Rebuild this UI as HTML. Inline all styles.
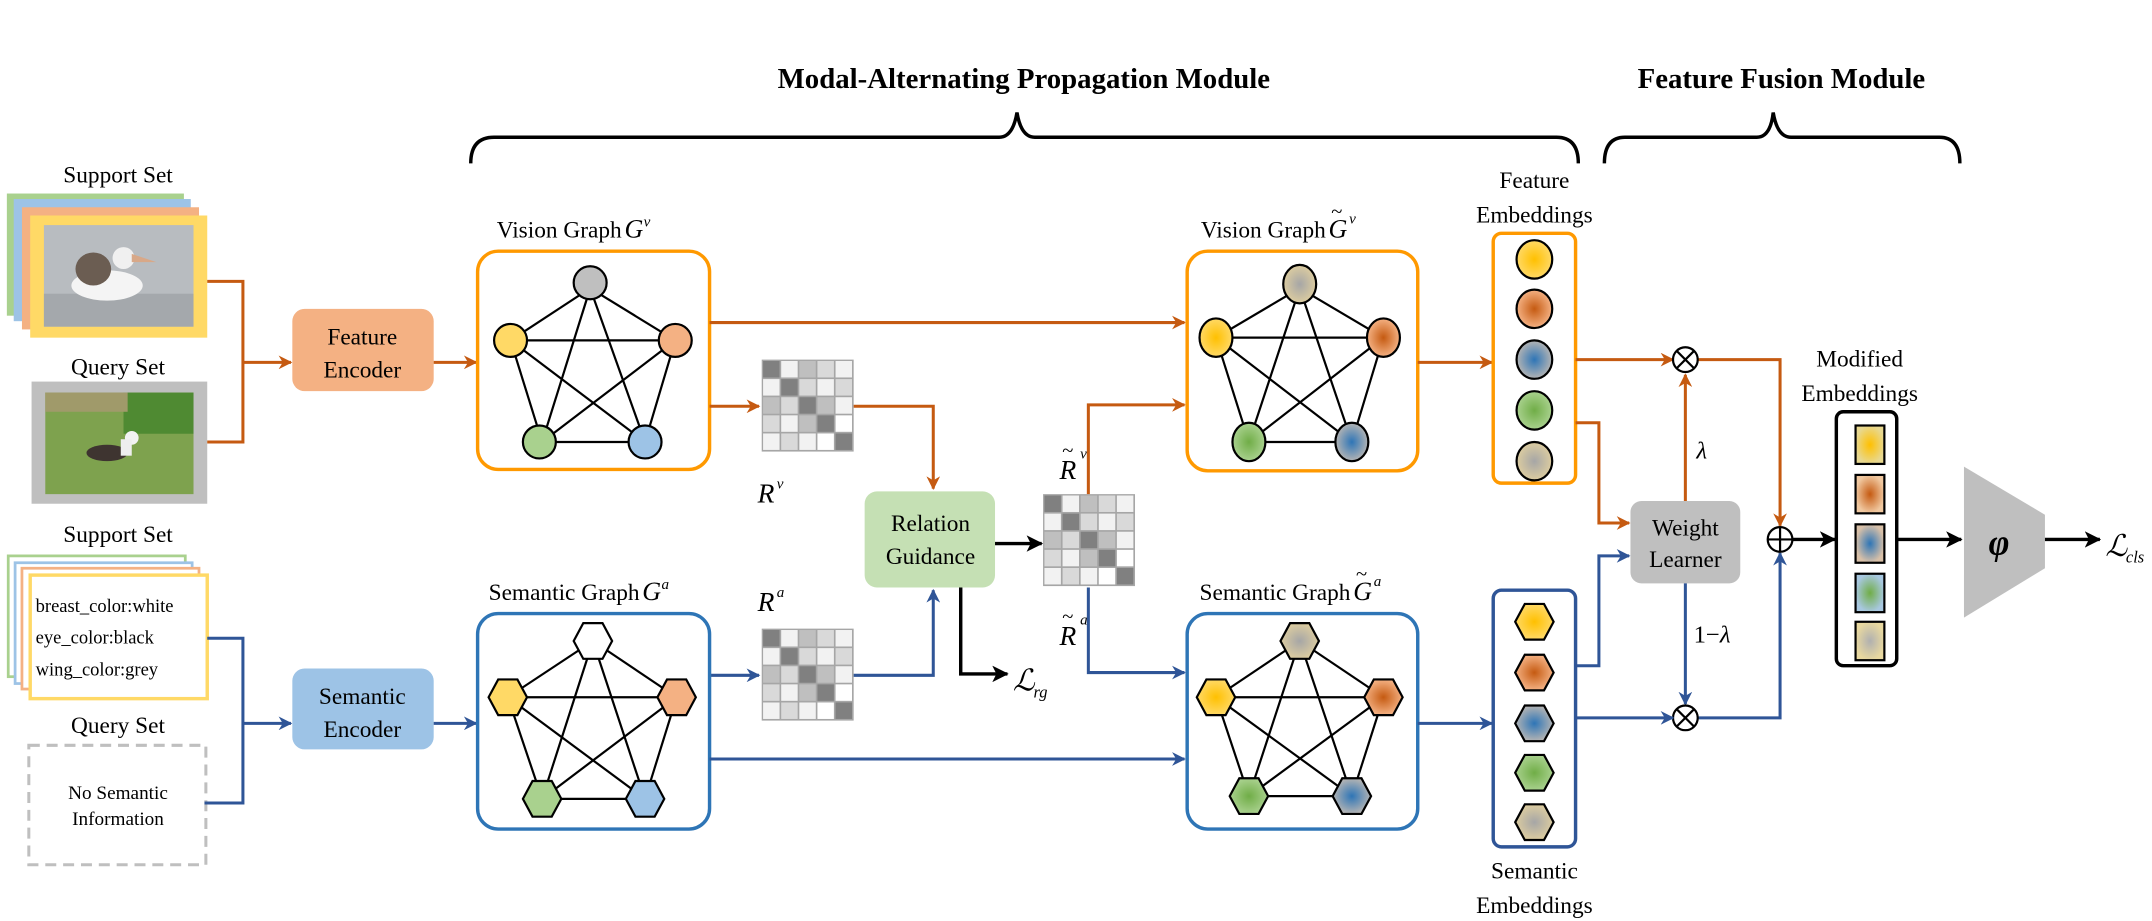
<!DOCTYPE html>
<html><head><meta charset="utf-8"><style>
html,body{margin:0;padding:0;background:#fff;}
svg{display:block;font-family:"Liberation Serif","Times New Roman",serif;}
svg text{font-family:"Liberation Serif","Times New Roman",serif;fill:#000;}
.t{font-size:17px;text-anchor:middle;}
.it{font-style:italic;}
</style></head><body>
<svg width="2152" height="921" viewBox="0 0 1568 671" preserveAspectRatio="none" xmlns="http://www.w3.org/2000/svg" font-family="Liberation Serif, serif">
<defs>
<marker id="ao" markerWidth="10" markerHeight="10" refX="9" refY="5" orient="auto" markerUnits="userSpaceOnUse"><path d="M0,0 L10,5 L0,10 L3,5 z" fill="#c55a11"/></marker>
<marker id="ab" markerWidth="10" markerHeight="10" refX="9" refY="5" orient="auto" markerUnits="userSpaceOnUse"><path d="M0,0 L10,5 L0,10 L3,5 z" fill="#2f5597"/></marker>
<marker id="ak" markerWidth="12" markerHeight="12" refX="11" refY="6" orient="auto" markerUnits="userSpaceOnUse"><path d="M0,0 L12,6 L0,12 L3,6 z" fill="#000"/></marker>
<radialGradient id="gy"><stop offset="0" stop-color="#ffc000"/><stop offset="1" stop-color="#ffd966"/></radialGradient>
<radialGradient id="go"><stop offset="0" stop-color="#c55a11"/><stop offset="1" stop-color="#f4b183"/></radialGradient>
<radialGradient id="gb"><stop offset="0" stop-color="#2e75b6"/><stop offset="1" stop-color="#b4b4b4"/></radialGradient>
<radialGradient id="gg"><stop offset="0" stop-color="#70ad47"/><stop offset="1" stop-color="#a9d18e"/></radialGradient>
<radialGradient id="gx"><stop offset="0" stop-color="#a6a6a6"/><stop offset="1" stop-color="#dccca0"/></radialGradient>
<radialGradient id="sy"><stop offset="0" stop-color="#ffc000"/><stop offset="1" stop-color="#e8d890"/></radialGradient>
<radialGradient id="so"><stop offset="0" stop-color="#c55a11"/><stop offset="1" stop-color="#f0c8a0"/></radialGradient>
<radialGradient id="sb"><stop offset="0" stop-color="#2e75b6"/><stop offset="1" stop-color="#d8c0a8"/></radialGradient>
<radialGradient id="sg"><stop offset="0" stop-color="#70ad47"/><stop offset="1" stop-color="#a8c8e0"/></radialGradient>
<radialGradient id="sx"><stop offset="0" stop-color="#b0b0b0"/><stop offset="1" stop-color="#e8d8a0"/></radialGradient>
<g id="mat">
<rect x="0" y="0" width="67" height="67" fill="#a6a6a6"/>
<rect x="1" y="1" width="12" height="12" fill="#808080"/><rect x="14.2" y="1" width="12" height="12" fill="#f2f2f2"/><rect x="27.4" y="1" width="12" height="12" fill="#bfbfbf"/><rect x="40.6" y="1" width="12" height="12" fill="#d9d9d9"/><rect x="53.8" y="1" width="12" height="12" fill="#f2f2f2"/>
<rect x="1" y="14.2" width="12" height="12" fill="#f2f2f2"/><rect x="14.2" y="14.2" width="12" height="12" fill="#808080"/><rect x="27.4" y="14.2" width="12" height="12" fill="#d9d9d9"/><rect x="40.6" y="14.2" width="12" height="12" fill="#f2f2f2"/><rect x="53.8" y="14.2" width="12" height="12" fill="#d9d9d9"/>
<rect x="1" y="27.4" width="12" height="12" fill="#bfbfbf"/><rect x="14.2" y="27.4" width="12" height="12" fill="#d9d9d9"/><rect x="27.4" y="27.4" width="12" height="12" fill="#808080"/><rect x="40.6" y="27.4" width="12" height="12" fill="#bfbfbf"/><rect x="53.8" y="27.4" width="12" height="12" fill="#f2f2f2"/>
<rect x="1" y="40.6" width="12" height="12" fill="#d9d9d9"/><rect x="14.2" y="40.6" width="12" height="12" fill="#f2f2f2"/><rect x="27.4" y="40.6" width="12" height="12" fill="#bfbfbf"/><rect x="40.6" y="40.6" width="12" height="12" fill="#808080"/><rect x="53.8" y="40.6" width="12" height="12" fill="#fff"/>
<rect x="1" y="53.8" width="12" height="12" fill="#f2f2f2"/><rect x="14.2" y="53.8" width="12" height="12" fill="#d9d9d9"/><rect x="27.4" y="53.8" width="12" height="12" fill="#f2f2f2"/><rect x="40.6" y="53.8" width="12" height="12" fill="#fff"/><rect x="53.8" y="53.8" width="12" height="12" fill="#808080"/>
</g>
<polygon id="hex" points="-14,0 -7,-13 7,-13 14,0 7,13 -7,13" stroke="#000" stroke-width="1.6"/>
</defs>

<!-- Titles and braces -->
<text x="746" y="64" font-size="21" font-weight="bold" text-anchor="middle">Modal-Alternating Propagation Module</text>
<text x="1298" y="64" font-size="21" font-weight="bold" text-anchor="middle">Feature Fusion Module</text>
<path d="M343,119 Q343,100 360,100 L728,100 Q738,100 741,82 Q744,100 754,100 L1134,100 Q1150,100 1150,119" fill="none" stroke="#000" stroke-width="2.5"/>
<path d="M1169,119 Q1169,100 1184,100 L1280,100 Q1290,100 1292,82 Q1295,100 1305,100 L1413,100 Q1428,100 1428,119" fill="none" stroke="#000" stroke-width="2.5"/>

<!-- Visual support / query -->
<text class="t" x="86" y="133">Support Set</text>
<rect x="5" y="141" width="129" height="89" fill="#a9d18e"/>
<rect x="10" y="145" width="129" height="89" fill="#9dc3e6"/>
<rect x="16" y="151" width="129" height="89" fill="#f4b183"/>
<rect x="22" y="157" width="129" height="89" fill="#ffd966"/>
<rect x="32" y="164" width="109" height="74" fill="#b8bcc0"/>
<rect x="32" y="214" width="109" height="24" fill="#a4a8ac"/>
<ellipse cx="78" cy="208" rx="26" ry="11" fill="#f4f4f4"/>
<ellipse cx="68" cy="196" rx="13" ry="12" fill="#6b5d52"/>
<circle cx="90" cy="188" r="8" fill="#f0f0f0"/>
<path d="M96,185 L114,191 L96,191z" fill="#d8a888"/>
<text class="t" x="86" y="273">Query Set</text>
<rect x="23" y="278" width="128" height="89" fill="#bfbfbf"/>
<rect x="33" y="286" width="108" height="74" fill="#7ea24e"/>
<rect x="90" y="286" width="51" height="30" fill="#4f8a32"/>
<rect x="33" y="286" width="60" height="14" fill="#a09a6a"/>
<ellipse cx="78" cy="330" rx="15" ry="6" fill="#3e3430"/>
<circle cx="96" cy="319" r="5" fill="#f2f2f2"/>
<rect x="88" y="320" width="8" height="12" fill="#eee"/>

<!-- orange left connectors -->
<polyline points="151,205 177,205 177,322 151,322" fill="none" stroke="#c55a11" stroke-width="2.2"/>
<line x1="177" y1="264" x2="212" y2="264" stroke="#c55a11" stroke-width="2.2" marker-end="url(#ao)"/>
<rect x="213" y="225" width="103" height="60" rx="9" fill="#f4b183"/>
<text class="t" x="264" y="251">Feature</text>
<text class="t" x="264" y="275">Encoder</text>
<line x1="316" y1="264" x2="347" y2="264" stroke="#c55a11" stroke-width="2.2" marker-end="url(#ao)"/>

<!-- Vision Graph G^v -->
<text x="453" y="173" font-size="17" text-anchor="end">Vision Graph </text>
<text x="455" y="173" font-size="19" class="it">G</text><text x="469" y="165" font-size="11" class="it">v</text>
<rect x="348" y="183" width="169" height="159" rx="15" fill="#fff" stroke="#ff9900" stroke-width="2.5"/>
<g stroke="#000" stroke-width="1.6">
<line x1="430" y1="210" x2="372" y2="248"/><line x1="430" y1="210" x2="492" y2="248"/><line x1="430" y1="210" x2="395" y2="322"/><line x1="430" y1="210" x2="470" y2="322"/>
<line x1="372" y1="248" x2="492" y2="248"/><line x1="372" y1="248" x2="395" y2="322"/><line x1="372" y1="248" x2="470" y2="322"/>
<line x1="492" y1="248" x2="395" y2="322"/><line x1="492" y1="248" x2="470" y2="322"/><line x1="395" y1="322" x2="470" y2="322"/>
</g>
<g stroke="#000" stroke-width="1.6">
<circle cx="430" cy="206" r="12" fill="#bfbfbf"/><circle cx="372" cy="248" r="12" fill="#ffd966"/><circle cx="492" cy="248" r="12" fill="#f4b183"/>
<circle cx="393" cy="322" r="12" fill="#a9d18e"/><circle cx="470" cy="322" r="12" fill="#9dc3e6"/>
</g>

<!-- Vision connectors -->
<line x1="517" y1="235" x2="863" y2="235" stroke="#c55a11" stroke-width="2.2" marker-end="url(#ao)"/>
<line x1="517" y1="296" x2="553" y2="296" stroke="#c55a11" stroke-width="2.2" marker-end="url(#ao)"/>
<use href="#mat" x="555" y="262"/>
<text x="552" y="366" font-size="20" class="it">R</text><text x="566" y="356" font-size="11" class="it">v</text>
<polyline points="622,296 680,296 680,356" fill="none" stroke="#c55a11" stroke-width="2.2" marker-end="url(#ao)"/>

<!-- Relation guidance -->
<rect x="630" y="358" width="95" height="70" rx="9" fill="#c5e0b4"/>
<text class="t" x="678" y="387">Relation</text>
<text class="t" x="678" y="411">Guidance</text>
<line x1="725" y1="396" x2="759" y2="396" stroke="#000" stroke-width="2.5" marker-end="url(#ak)"/>
<polyline points="700,428 700,491 734,491" fill="none" stroke="#000" stroke-width="2.5" marker-end="url(#ak)"/>
<text x="738" y="503" font-size="22" class="it">ℒ</text><text x="753" y="508" font-size="12" class="it">rg</text>
<use href="#mat" x="760" y="360"/>
<text x="772" y="349" font-size="20" class="it">R</text><text x="774" y="333" font-size="15">~</text><text x="787" y="334" font-size="11" class="it">v</text>
<text x="772" y="470" font-size="20" class="it">R</text><text x="774" y="454" font-size="15">~</text><text x="787" y="455" font-size="11" class="it">a</text>
<polyline points="793,360 793,295 863,295" fill="none" stroke="#c55a11" stroke-width="2.2" marker-end="url(#ao)"/>
<polyline points="793,428 793,490 863,490" fill="none" stroke="#2f5597" stroke-width="2.2" marker-end="url(#ab)"/>

<!-- Semantic R^a -->
<text x="552" y="445" font-size="20" class="it">R</text><text x="566" y="435" font-size="11" class="it">a</text>
<use href="#mat" x="555" y="458"/>
<line x1="517" y1="492" x2="553" y2="492" stroke="#2f5597" stroke-width="2.2" marker-end="url(#ab)"/>
<polyline points="622,492 680,492 680,430" fill="none" stroke="#2f5597" stroke-width="2.2" marker-end="url(#ab)"/>

<!-- Vision Graph tilde -->
<text x="966" y="173" font-size="17" text-anchor="end">Vision Graph </text>
<text x="968" y="173" font-size="19" class="it">G</text><text x="970" y="159" font-size="15">~</text><text x="983" y="163" font-size="11" class="it">v</text>
<rect x="865" y="183" width="168" height="160" rx="15" fill="#fff" stroke="#ff9900" stroke-width="2.5"/>
<g stroke="#000" stroke-width="1.6">
<line x1="947" y1="210" x2="886" y2="246"/><line x1="947" y1="210" x2="1008" y2="246"/><line x1="947" y1="210" x2="910" y2="322"/><line x1="947" y1="210" x2="985" y2="322"/>
<line x1="886" y1="246" x2="1008" y2="246"/><line x1="886" y1="246" x2="910" y2="322"/><line x1="886" y1="246" x2="985" y2="322"/>
<line x1="1008" y1="246" x2="910" y2="322"/><line x1="1008" y1="246" x2="985" y2="322"/><line x1="910" y1="322" x2="985" y2="322"/>
</g>
<g stroke="#000" stroke-width="1.6">
<ellipse cx="947" cy="207" rx="12" ry="14" fill="url(#gx)"/><ellipse cx="886" cy="246" rx="12" ry="14" fill="url(#gy)"/><ellipse cx="1008" cy="246" rx="12" ry="14" fill="url(#go)"/>
<ellipse cx="910" cy="322" rx="12" ry="14" fill="url(#gg)"/><ellipse cx="985" cy="322" rx="12" ry="14" fill="url(#gb)"/>
</g>
<line x1="1033" y1="264" x2="1087" y2="264" stroke="#c55a11" stroke-width="2.2" marker-end="url(#ao)"/>

<!-- Feature embeddings -->
<text class="t" x="1118" y="137">Feature</text>
<text class="t" x="1118" y="162">Embeddings</text>
<rect x="1088" y="170" width="60" height="182" rx="6" fill="#fff" stroke="#ff9900" stroke-width="2.5"/>
<g stroke="#000" stroke-width="1.6">
<ellipse cx="1118" cy="189" rx="13" ry="14" fill="url(#gy)"/>
<ellipse cx="1118" cy="225" rx="13" ry="14" fill="url(#go)"/>
<ellipse cx="1118" cy="262" rx="13" ry="14" fill="url(#gb)"/>
<ellipse cx="1118" cy="299" rx="13" ry="14" fill="url(#gg)"/>
<ellipse cx="1118" cy="336" rx="13" ry="14" fill="url(#gx)"/>
</g>

<!-- Fusion -->
<line x1="1148" y1="262" x2="1219" y2="262" stroke="#c55a11" stroke-width="2.2" marker-end="url(#ao)"/>
<polyline points="1148,308 1165,308 1165,381 1187,381" fill="none" stroke="#c55a11" stroke-width="2.2" marker-end="url(#ao)"/>
<rect x="1188" y="365" width="80" height="60" rx="8" fill="#bfbfbf"/>
<text class="t" x="1228" y="390">Weight</text>
<text class="t" x="1228" y="413">Learner</text>
<line x1="1228" y1="365" x2="1228" y2="273" stroke="#c55a11" stroke-width="2.2" marker-end="url(#ao)"/>
<text x="1236" y="334" font-size="18" class="it">λ</text>
<line x1="1228" y1="425" x2="1228" y2="513" stroke="#2f5597" stroke-width="2.2" marker-end="url(#ab)"/>
<text x="1234" y="468" font-size="18">1−<tspan class="it">λ</tspan></text>
<polyline points="1237,262 1297,262 1297,383" fill="none" stroke="#c55a11" stroke-width="2.2" marker-end="url(#ao)"/>
<polyline points="1237,523 1297,523 1297,403" fill="none" stroke="#2f5597" stroke-width="2.2" marker-end="url(#ab)"/>
<g fill="#fff" stroke="#000" stroke-width="1.6">
<circle cx="1228" cy="262" r="9"/><path d="M1221.6,255.6 L1234.4,268.4 M1234.4,255.6 L1221.6,268.4"/>
<circle cx="1228" cy="523" r="9"/><path d="M1221.6,516.6 L1234.4,529.4 M1234.4,516.6 L1221.6,529.4"/>
<circle cx="1297" cy="393" r="9"/><path d="M1288,393 L1306,393 M1297,384 L1297,402"/>
</g>
<line x1="1306" y1="393" x2="1337" y2="393" stroke="#000" stroke-width="2.5" marker-end="url(#ak)"/>

<!-- Modified embeddings -->
<text class="t" x="1355" y="267">Modified</text>
<text class="t" x="1355" y="292">Embeddings</text>
<rect x="1338" y="300" width="44" height="185" rx="5" fill="#fff" stroke="#000" stroke-width="2.5"/>
<g stroke="#000" stroke-width="1.6">
<rect x="1352" y="310" width="21" height="28" fill="url(#sy)"/>
<rect x="1352" y="346" width="21" height="28" fill="url(#so)"/>
<rect x="1352" y="382" width="21" height="28" fill="url(#sb)"/>
<rect x="1352" y="418" width="21" height="28" fill="url(#sg)"/>
<rect x="1352" y="453" width="21" height="28" fill="url(#sx)"/>
</g>
<line x1="1382" y1="393" x2="1429" y2="393" stroke="#000" stroke-width="2.5" marker-end="url(#ak)"/>
<polygon points="1431,340 1490,375 1490,414 1431,450" fill="#bfbfbf"/>
<text x="1449" y="404" font-size="26" font-weight="bold" class="it">φ</text>
<line x1="1490" y1="393" x2="1530" y2="393" stroke="#000" stroke-width="2.5" marker-end="url(#ak)"/>
<text x="1534" y="405" font-size="22" class="it">ℒ</text><text x="1549" y="410" font-size="12" class="it">cls</text>

<!-- Semantic support / query -->
<text class="t" x="86" y="395">Support Set</text>
<rect x="6" y="405" width="129" height="88" fill="#fff" stroke="#a9d18e" stroke-width="2"/>
<rect x="11" y="410" width="129" height="88" fill="#fff" stroke="#9dc3e6" stroke-width="2"/>
<rect x="16" y="414" width="129" height="88" fill="#fff" stroke="#f4b183" stroke-width="2"/>
<rect x="22" y="419" width="129" height="90" fill="#fff" stroke="#ffd966" stroke-width="2.5"/>
<text x="26" y="446" font-size="13.5">breast_color:white</text>
<text x="26" y="469" font-size="13.5">eye_color:black</text>
<text x="26" y="492" font-size="13.5">wing_color:grey</text>
<text class="t" x="86" y="534">Query Set</text>
<rect x="21" y="543" width="129" height="87" fill="#fff" stroke="#bfbfbf" stroke-width="2.2" stroke-dasharray="8,5"/>
<text x="86" y="582" font-size="14" text-anchor="middle">No Semantic</text>
<text x="86" y="601" font-size="14" text-anchor="middle">Information</text>
<polyline points="151,465 177,465 177,585 149,585" fill="none" stroke="#2f5597" stroke-width="2.2"/>
<line x1="177" y1="527" x2="212" y2="527" stroke="#2f5597" stroke-width="2.2" marker-end="url(#ab)"/>
<rect x="213" y="487" width="103" height="59" rx="9" fill="#9dc3e6"/>
<text class="t" x="264" y="513">Semantic</text>
<text class="t" x="264" y="537">Encoder</text>
<line x1="316" y1="527" x2="347" y2="527" stroke="#2f5597" stroke-width="2.2" marker-end="url(#ab)"/>

<!-- Semantic graph G^a -->
<text x="466" y="437" font-size="17" text-anchor="end">Semantic Graph </text>
<text x="468" y="437" font-size="19" class="it">G</text><text x="482" y="429" font-size="11" class="it">a</text>
<rect x="348" y="447" width="169" height="157" rx="15" fill="#fff" stroke="#2e75b6" stroke-width="2.5"/>
<g stroke="#000" stroke-width="1.6">
<line x1="432" y1="467" x2="370" y2="508"/><line x1="432" y1="467" x2="493" y2="508"/><line x1="432" y1="467" x2="395" y2="582"/><line x1="432" y1="467" x2="470" y2="582"/>
<line x1="370" y1="508" x2="493" y2="508"/><line x1="370" y1="508" x2="395" y2="582"/><line x1="370" y1="508" x2="470" y2="582"/>
<line x1="493" y1="508" x2="395" y2="582"/><line x1="493" y1="508" x2="470" y2="582"/><line x1="395" y1="582" x2="470" y2="582"/>
</g>
<use href="#hex" x="432" y="467" fill="#fff"/>
<use href="#hex" x="370" y="508" fill="#ffd966"/>
<use href="#hex" x="493" y="508" fill="#f4b183"/>
<use href="#hex" x="395" y="582" fill="#a9d18e"/>
<use href="#hex" x="470" y="582" fill="#9dc3e6"/>
<line x1="517" y1="553" x2="863" y2="553" stroke="#2f5597" stroke-width="2.2" marker-end="url(#ab)"/>

<!-- Semantic graph tilde -->
<text x="984" y="437" font-size="17" text-anchor="end">Semantic Graph </text>
<text x="986" y="437" font-size="19" class="it">G</text><text x="988" y="423" font-size="15">~</text><text x="1001" y="427" font-size="11" class="it">a</text>
<rect x="865" y="447" width="168" height="157" rx="15" fill="#fff" stroke="#2e75b6" stroke-width="2.5"/>
<g stroke="#000" stroke-width="1.6">
<line x1="947" y1="467" x2="886" y2="508"/><line x1="947" y1="467" x2="1008" y2="508"/><line x1="947" y1="467" x2="910" y2="580"/><line x1="947" y1="467" x2="985" y2="580"/>
<line x1="886" y1="508" x2="1008" y2="508"/><line x1="886" y1="508" x2="910" y2="580"/><line x1="886" y1="508" x2="985" y2="580"/>
<line x1="1008" y1="508" x2="910" y2="580"/><line x1="1008" y1="508" x2="985" y2="580"/><line x1="910" y1="580" x2="985" y2="580"/>
</g>
<use href="#hex" x="947" y="467" fill="url(#gx)"/>
<use href="#hex" x="886" y="508" fill="url(#gy)"/>
<use href="#hex" x="1008" y="508" fill="url(#go)"/>
<use href="#hex" x="910" y="580" fill="url(#gg)"/>
<use href="#hex" x="985" y="580" fill="url(#gb)"/>
<line x1="1033" y1="527" x2="1087" y2="527" stroke="#2f5597" stroke-width="2.2" marker-end="url(#ab)"/>

<!-- Semantic embeddings -->
<rect x="1088" y="430" width="60" height="187" rx="6" fill="#fff" stroke="#2f5597" stroke-width="2.5"/>
<use href="#hex" x="1118" y="453" fill="url(#gy)"/>
<use href="#hex" x="1118" y="490" fill="url(#go)"/>
<use href="#hex" x="1118" y="527" fill="url(#gb)"/>
<use href="#hex" x="1118" y="563" fill="url(#gg)"/>
<use href="#hex" x="1118" y="599" fill="url(#gx)"/>
<text class="t" x="1118" y="640">Semantic</text>
<text class="t" x="1118" y="665">Embeddings</text>
<polyline points="1148,485 1165,485 1165,405 1187,405" fill="none" stroke="#2f5597" stroke-width="2.2" marker-end="url(#ab)"/>
<line x1="1148" y1="523" x2="1219" y2="523" stroke="#2f5597" stroke-width="2.2" marker-end="url(#ab)"/>
</svg>
</body></html>
